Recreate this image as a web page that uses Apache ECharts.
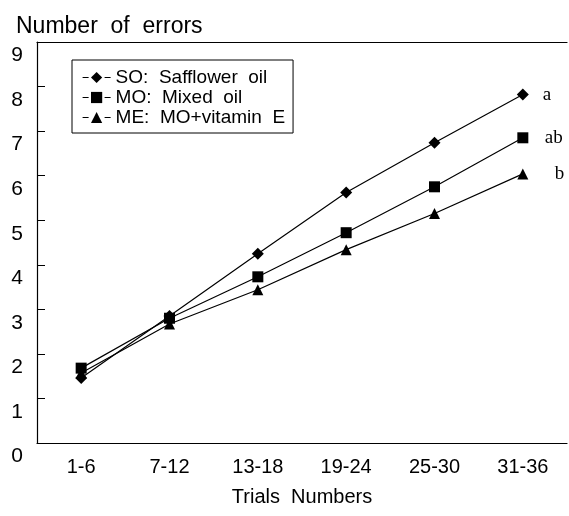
<!DOCTYPE html>
<html>
<head>
<meta charset="utf-8">
<script src="https://cdn.jsdelivr.net/npm/echarts@6/dist/echarts.min.js"></script>
<style>
html, body { margin: 0; padding: 0; background: #fff; }
#main { width: 569px; height: 516px; }
</style>
</head>
<body>
<div id="main"></div>
<script>
// trial blocks
var categories = ['1-6', '7-12', '13-18', '19-24', '25-30', '31-36']
// number of errors per group
var soValues = [1.46, 2.85, 4.25, 5.62, 6.74, 7.82]
var moValues = [1.68, 2.80, 3.73, 4.72, 5.75, 6.85]
var meValues = [1.57, 2.67, 3.44, 4.34, 5.15, 6.04]
var seriesNames = ['SO:  Safflower  oil', 'MO:  Mixed  oil', 'ME:  MO+vitamin  E']
var sigLetters = ['a', 'ab', 'b']

var myChart = echarts.init(document.getElementById('main'))

function makeSeries(name, values, symbol, size, letter, dist) {
  return {
    name: name,
    type: 'line',
    data: values,
    symbol: symbol,
    symbolSize: size,
    itemStyle: { color: '#000' },
    lineStyle: { color: '#000', width: 1.2 },
    endLabel: {
      show: true,
      formatter: letter,
      distance: dist,
      color: '#000',
      fontFamily: 'Liberation Serif',
      fontSize: 19
    }
  }
}

var option = {
  animation: false,
  textStyle: { fontFamily: 'Liberation Sans', color: '#000' },
  title: {
    text: 'Number  of  errors',
    left: 11,
    top: 10,
    textStyle: { fontSize: 23, fontWeight: 'normal', color: '#000', fontFamily: 'Liberation Sans' }
  },
  legend: {
    orient: 'vertical',
    left: 72,
    top: 60,
    data: seriesNames,
    borderColor: '#000',
    borderWidth: 1,
    borderRadius: 0,
    padding: [8, 8, 6, 10],
    itemGap: 1,
    itemWidth: 28,
    itemHeight: 14,
    lineStyle: { type: [6, 16], width: 1.2 },
    textStyle: { fontSize: 19, color: '#000', fontFamily: 'Liberation Sans' }
  },
  grid: {
    left: 37,
    right: 2,
    top: 42,
    bottom: 73
  },
  xAxis: [
    {
      type: 'category',
      data: categories,
      boundaryGap: true,
      name: 'Trials  Numbers',
      nameLocation: 'middle',
      nameGap: 44,
      nameTextStyle: { fontSize: 20, color: '#000' },
      axisLine: { lineStyle: { color: '#000', width: 1.2 } },
      axisTick: { show: false },
      axisLabel: { fontSize: 20, color: '#000', margin: 14 },
      splitLine: { show: false }
    },
    {
      type: 'category',
      data: categories,
      position: 'top',
      axisLine: { lineStyle: { color: '#000', width: 1.2 } },
      axisTick: { show: false },
      axisLabel: { show: false },
      splitLine: { show: false }
    }
  ],
  yAxis: {
    type: 'value',
    min: 0,
    max: 9,
    interval: 1,
    axisLine: { show: true, lineStyle: { color: '#000', width: 1.2 } },
    axisTick: { show: true, inside: true, length: 8, lineStyle: { color: '#000' } },
    axisLabel: { fontSize: 21, color: '#000', margin: 14, verticalAlign: 'top', padding: [3, 0, 0, 0] },
    splitLine: { show: false }
  },
  series: [
    makeSeries(seriesNames[0], soValues, 'diamond', 12, sigLetters[0], 20),
    makeSeries(seriesNames[1], moValues, 'rect', 11, sigLetters[1], 22),
    makeSeries(seriesNames[2], meValues, 'triangle', 11, sigLetters[2], 32)
  ]
}

myChart.setOption(option)
</script>
</body>
</html>
